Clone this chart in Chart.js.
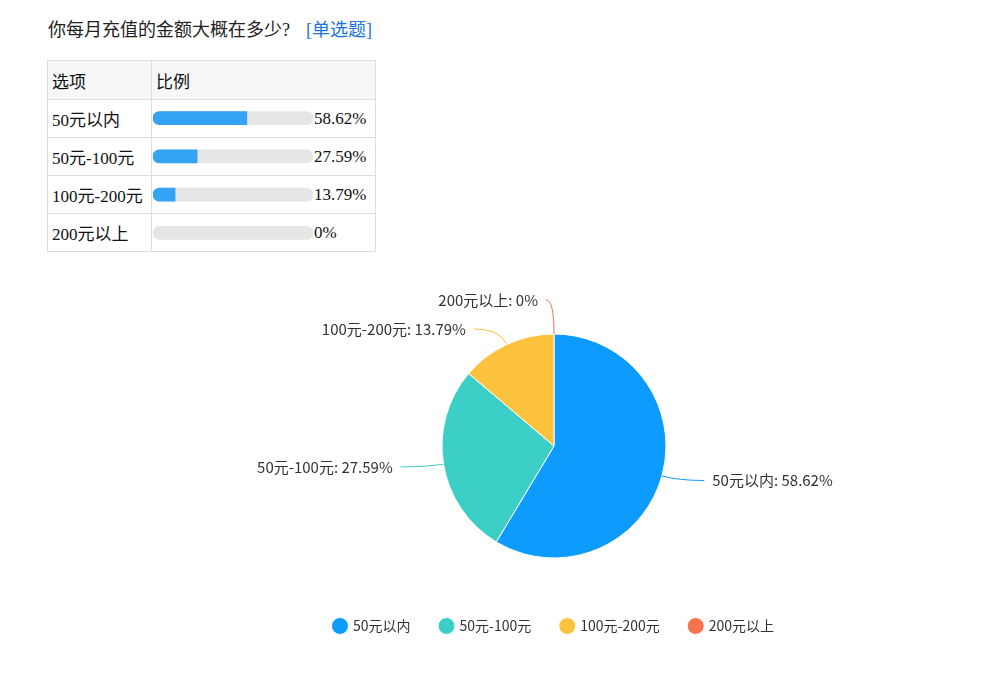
<!DOCTYPE html>
<html>
<head>
<meta charset="utf-8">
<script src="https://cdn.jsdelivr.net/npm/chart.js@4"></script>
<style>
  body { margin: 0; background: #fff; width: 1000px; height: 673px; overflow: hidden; position: relative; }
  .title { position: absolute; left: 48px; top: 15px; font: 18px "Liberation Serif", "Noto Sans CJK SC", serif; color: #222; }
  .title span { color: #1a73e8; margin-left: 16px; }
  table { position: absolute; left: 47px; top: 60px; border-collapse: collapse; font: 17px "Liberation Serif", "Noto Sans CJK SC", serif; color: #111; }
  td { border: 1px solid #dedede; padding: 0 0 0 4px; height: 38px; white-space: nowrap; box-sizing: border-box; }
  tr.head td { background: #f7f7f7; height: 39px; }
  td.c1 { width: 104px; }
  td.c2 { width: 224px; padding-left: 162px; }
  #barBox { position: absolute; left: 153px; top: 99px; width: 160px; height: 153px; }
  #pieChart { position: absolute; left: 154px; top: 278px; }
</style>
</head>
<body>
<div class="title">你每月充值的金额大概在多少?<span>[单选题]</span></div>
<table id="tbl"></table>
<div id="barBox"><canvas id="barChart"></canvas></div>
<canvas id="pieChart" width="800" height="365"></canvas>
<script>
const options = ['50元以内', '50元-100元', '100元-200元', '200元以上'];
const percents = [58.62, 27.59, 13.79, 0];
const pctLabels = ['58.62%', '27.59%', '13.79%', '0%'];
const colors = ['#0d9bfd', '#3ccfc8', '#fdc33f', '#f5744b'];

// table text
const tbl = document.getElementById('tbl');
let html = '<tr class="head"><td class="c1">选项</td><td class="c2" style="padding-left:4px">比例</td></tr>';
options.forEach((o, i) => {
    html += '<tr><td class="c1">' + o + '</td><td class="c2">' + pctLabels[i] + '</td></tr>';
});
tbl.innerHTML = html;

// progress bars in the table
new Chart(document.getElementById('barChart'), {
    type: 'bar',
    data: {
        labels: options,
        datasets: [
            {
                data: percents.map(v => (v > 0 ? v : null)),
                backgroundColor: '#35a3f4',
                borderRadius: { topLeft: 7, bottomLeft: 7, topRight: 0, bottomRight: 0 },
                borderSkipped: false,
                barThickness: 13,
            },
            {
                data: options.map(() => 100),
                backgroundColor: '#e6e6e6',
                borderRadius: 7,
                borderSkipped: false,
                barThickness: 13,
            },
        ],
    },
    options: {
        indexAxis: 'y',
        responsive: true,
        maintainAspectRatio: false,
        animation: false,
        layout: { padding: 0 },
        datasets: { bar: { grouped: false } },
        scales: {
            x: { display: false, min: 0, max: 100 },
            y: { display: false },
        },
        plugins: { legend: { display: false }, tooltip: { enabled: false } },
    },
});

// outside labels with leader lines
const pieLabels = {
    id: 'pieLabels',
    afterDatasetsDraw(chart) {
        const ctx = chart.ctx;
        const meta = chart.getDatasetMeta(0);
        ctx.save();
        ctx.font = '15px "Noto Sans CJK SC", sans-serif';
        ctx.textBaseline = 'middle';
        meta.data.forEach((arc, i) => {
            const mid = (arc.startAngle + arc.endAngle) / 2;
            const r = arc.outerRadius;
            const cos = Math.cos(mid), sin = Math.sin(mid);
            const right = cos > 0.001;
            const x1 = arc.x + cos * r, y1 = arc.y + sin * r;
            const len = percents[i] === 0 ? 34 : 17;
            const len2 = percents[i] === 0 ? 8 : 26;
            const x2 = arc.x + cos * (r + len), y2 = arc.y + sin * (r + len);
            const x3 = x2 + (right ? len2 : -len2);
            ctx.strokeStyle = colors[i];
            ctx.lineWidth = 1;
            ctx.beginPath();
            ctx.moveTo(x1, y1);
            ctx.quadraticCurveTo(x2, y2, x3, y2);
            ctx.stroke();
            ctx.fillStyle = '#333';
            ctx.textAlign = right ? 'left' : 'right';
            ctx.fillText(options[i] + ': ' + pctLabels[i], x3 + (right ? 8 : -8), y2);
        });
        ctx.restore();
    },
};

new Chart(document.getElementById('pieChart'), {
    type: 'pie',
    data: {
        labels: options,
        datasets: [{
            data: percents,
            backgroundColor: colors,
            borderColor: '#fff',
            borderWidth: 1,
            radius: 112,
        }],
    },
    options: {
        responsive: false,
        animation: false,
        layout: { padding: { top: 25, bottom: 0 } },
        plugins: {
            tooltip: { enabled: false },
            legend: {
                position: 'bottom',
                labels: {
                    usePointStyle: true,
                    pointStyle: 'circle',
                    boxWidth: 12,
                    boxHeight: 12,
                    padding: 30,
                    color: '#333',
                    font: { size: 14, family: '"Noto Sans CJK SC", sans-serif' },
                },
            },
        },
    },
    plugins: [pieLabels],
});
</script>
</body>
</html>
